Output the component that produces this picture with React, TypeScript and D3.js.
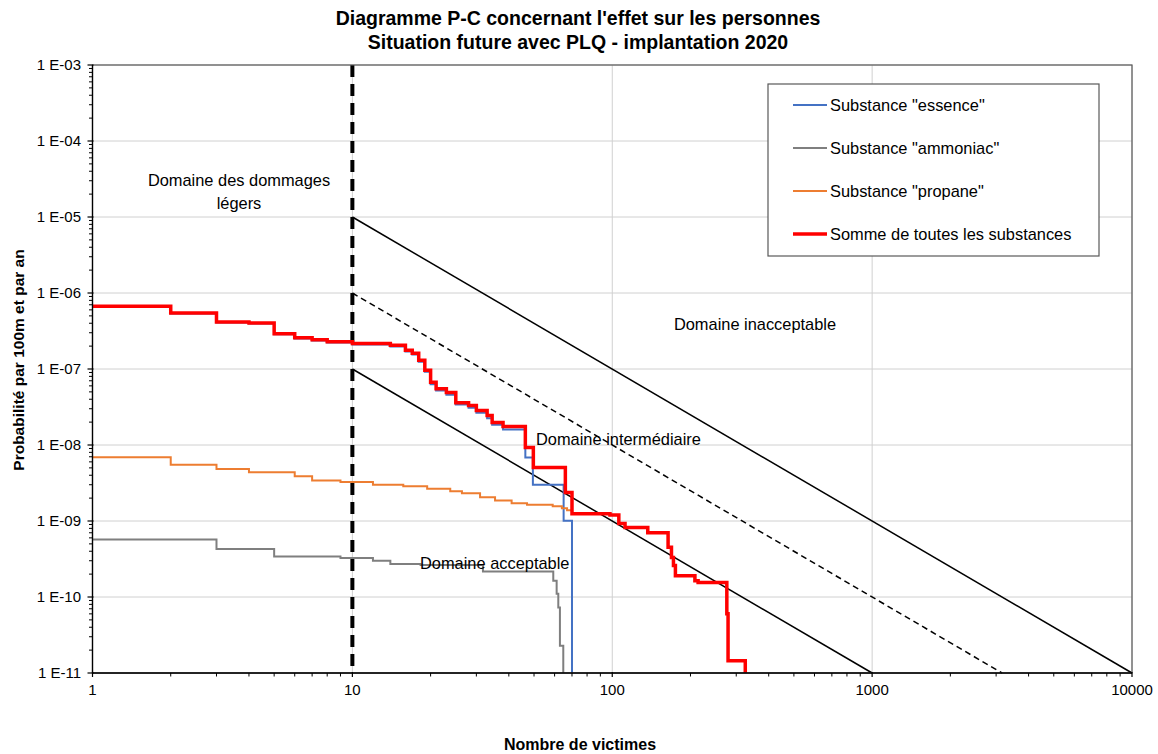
import React from "react";
import * as d3 from "d3";

const W = 1158;
const H = 754;

const titleLines = [
  "Diagramme P-C concernant l'effet sur les personnes",
  "Situation future avec PLQ - implantation 2020",
];
const xAxisTitle = "Nombre de victimes";
const yAxisTitle = "Probabilité par 100m et par an";

const xTicks = [1, 10, 100, 1000, 10000];
const yTicks = [1e-3, 1e-4, 1e-5, 1e-6, 1e-7, 1e-8, 1e-9, 1e-10, 1e-11];

type Pt = [number, number];

// Cumulative frequency curves (victims, probability), drawn as steps
const essence: Pt[] = [
  [1, 6.6e-7], [2, 5.38e-7], [3, 4.08e-7], [4, 3.96e-7], [5, 2.86e-7], [6, 2.52e-7],
  [7, 2.37e-7], [8, 2.23e-7], [10, 2.1e-7], [14, 1.98e-7], [16, 1.7e-7], [17, 1.55e-7],
  [18, 1.25e-7], [19, 9.2e-8], [20, 6.3e-8], [21, 5.2e-8], [23, 4.6e-8], [25, 3.4e-8],
  [28, 3.1e-8], [30, 2.65e-8], [33, 2.25e-8], [34.5, 1.85e-8], [38, 1.6e-8],
  [46.3, 6.84e-9], [49.5, 3.0e-9], [65, 1.01e-9], [70, 1e-11],
];

const ammoniac: Pt[] = [
  [1, 5.69e-10], [3, 4.29e-10], [5, 3.4e-10], [9, 3.27e-10], [12, 3.01e-10], [14, 2.72e-10],
  [18.3, 2.64e-10], [31.8, 2.17e-10], [59.3, 1.64e-10], [61.1, 1.1e-10], [62, 7.3e-11],
  [62.9, 2.28e-11], [64.8, 1e-11],
];

const propane: Pt[] = [
  [1, 6.9e-9], [2, 5.48e-9], [3, 4.85e-9], [4, 4.38e-9], [6, 3.88e-9], [7, 3.41e-9],
  [9, 3.27e-9], [12, 2.99e-9], [15.7, 2.86e-9], [19.4, 2.65e-9], [23.8, 2.46e-9],
  [26.4, 2.32e-9], [31, 2.05e-9], [35.4, 1.86e-9], [41, 1.71e-9], [47, 1.63e-9],
  [59, 1.56e-9], [64, 1.47e-9], [67, 1.38e-9], [70, 1.3e-9],
];

const somme: Pt[] = [
  [1, 6.7e-7], [2, 5.45e-7], [3, 4.15e-7], [4, 4.03e-7], [5, 2.92e-7], [6, 2.58e-7],
  [7, 2.43e-7], [8, 2.29e-7], [10, 2.17e-7], [14, 2.05e-7], [16, 1.76e-7], [17, 1.61e-7],
  [18, 1.3e-7], [19, 9.6e-8], [20, 6.7e-8], [21, 5.5e-8], [23, 4.9e-8], [25, 3.6e-8],
  [28, 3.3e-8], [30, 2.85e-8], [33, 2.45e-8], [34.5, 1.98e-8], [38, 1.75e-8],
  [46.3, 9.3e-9], [49.7, 5.06e-9], [66, 2.37e-9], [70, 1.25e-9], [98, 1.2e-9],
  [106, 9.3e-10], [112, 8.2e-10], [137, 7.0e-10], [164, 4.5e-10], [169, 3.3e-10],
  [172, 2.6e-10], [175, 1.91e-10], [208, 1.64e-10], [214, 1.55e-10], [276, 6.0e-11],
  [279, 1.45e-11], [325, 1e-11],
];

// Acceptability criteria lines
const limitUpper: Pt[] = [[10, 1e-5], [10000, 1e-11]];
const limitMiddle: Pt[] = [[10, 1e-6], [3162, 1e-11]];
const limitLower: Pt[] = [[10, 1e-7], [1000, 1e-11]];
const lightDamageLimit = 10;

const seriesNames = [
  'Substance "essence"',
  'Substance "ammoniac"',
  'Substance "propane"',
  "Somme de toutes les substances",
];
const seriesData = [essence, ammoniac, propane, somme];
const seriesColors = ["#4472C4", "#7F7F7F", "#ED7D31", "#FF0000"];
const seriesWidths = [2, 2, 2, 3.5];

const FONT = "'Liberation Sans', Arial, sans-serif";

export default function App() {
  const left = 92.5;
  const right = 1132;
  const top = 65;
  const bottom = 673;

  const x = d3.scaleLog().domain([1, 10000]).range([left, right]);
  const y = d3.scaleLog().domain([1e-11, 1e-3]).range([bottom, top]);

  const step = d3
    .line<Pt>()
    .x((d) => x(d[0]))
    .y((d) => y(d[1]))
    .curve(d3.curveStepAfter);
  const straight = d3
    .line<Pt>()
    .x((d) => x(d[0]))
    .y((d) => y(d[1]));

  const isDecade = (v: number) => Math.abs(Math.log10(v) - Math.round(Math.log10(v))) < 1e-6;
  const xMinor = x.ticks().filter((v) => !isDecade(v));
  const yMinor = y.ticks().filter((v) => !isDecade(v));

  const fmtY = (v: number) => {
    const e = Math.round(Math.log10(v));
    return `1 E-${String(-e).padStart(2, "0")}`;
  };

  const legendX = 768;
  const legendY = 84;
  const legendW = 331;
  const legendH = 172;
  const legendRows = [105, 148, 191, 234];

  const order = [0, 1, 2, 3];

  return (
    <svg
      width={W}
      height={H}
      style={{ position: "absolute", left: 0, top: 0, background: "#fff" }}
      fontFamily={FONT}
    >
      <rect x={0} y={0} width={W} height={H} fill="#fff" />

      {/* title */}
      {titleLines.map((t, i) => (
        <text
          key={t}
          x={578}
          y={25 + i * 24}
          textAnchor="middle"
          fontSize={19.5}
          fontWeight="bold"
          fill="#000"
        >
          {t}
        </text>
      ))}

      {/* grid */}
      {xTicks.map((v) => (
        <line key={"gx" + v} x1={x(v)} x2={x(v)} y1={top} y2={bottom} stroke="#D0D0D0" strokeWidth={1} />
      ))}
      {yTicks.map((v) => (
        <line key={"gy" + v} x1={left} x2={right} y1={y(v)} y2={y(v)} stroke="#D0D0D0" strokeWidth={1} />
      ))}

      {/* criteria lines */}
      <path d={straight(limitUpper) || ""} fill="none" stroke="#000" strokeWidth={1.5} />
      <path d={straight(limitMiddle) || ""} fill="none" stroke="#000" strokeWidth={1.5} strokeDasharray="6 4" />
      <path d={straight(limitLower) || ""} fill="none" stroke="#000" strokeWidth={1.5} />

      {/* light damage boundary */}
      <line
        x1={x(lightDamageLimit)}
        x2={x(lightDamageLimit)}
        y1={top}
        y2={bottom}
        stroke="#000"
        strokeWidth={4}
        strokeDasharray="12 7"
      />

      {/* series */}
      {order.map((i) => (
        <path
          key={seriesNames[i]}
          d={step(seriesData[i]) || ""}
          fill="none"
          stroke={seriesColors[i]}
          strokeWidth={seriesWidths[i]}
          strokeLinejoin="miter"
        />
      ))}

      {/* domain annotations */}
      <g fontSize={16.4} fill="#000">
        <text x={239} y={186} textAnchor="middle">Domaine des dommages</text>
        <text x={239} y={209} textAnchor="middle">légers</text>
        <text x={755} y={330} textAnchor="middle">Domaine inacceptable</text>
        <text x={536} y={445}>Domaine intermédiaire</text>
        <text x={420} y={569}>Domaine acceptable</text>
      </g>

      {/* frame */}
      <rect x={left} y={top} width={right - left} height={bottom - top} fill="none" stroke="#595959" strokeWidth={1.2} />

      {/* y axis */}
      <line x1={left} x2={left} y1={top} y2={bottom} stroke="#000" strokeWidth={1.3} />
      {yTicks.map((v) => (
        <g key={"yt" + v}>
          <line x1={left - 5} x2={left + 1} y1={y(v)} y2={y(v)} stroke="#000" strokeWidth={1.2} />
          <text x={81} y={y(v)} dy="0.35em" textAnchor="end" fontSize={15} fill="#000">
            {fmtY(v)}
          </text>
        </g>
      ))}
      {yMinor.map((v) => (
        <line key={"ym" + v} x1={left - 3.5} x2={left} y1={y(v)} y2={y(v)} stroke="#000" strokeWidth={1} />
      ))}

      {/* x axis */}
      <line x1={left} x2={right} y1={bottom} y2={bottom} stroke="#000" strokeWidth={1.3} />
      {xTicks.map((v) => (
        <g key={"xt" + v}>
          <line x1={x(v)} x2={x(v)} y1={bottom - 1} y2={bottom + 4} stroke="#000" strokeWidth={1.2} />
          <text x={x(v)} y={695} textAnchor="middle" fontSize={15} fill="#000">
            {v}
          </text>
        </g>
      ))}
      {xMinor.map((v) => (
        <line key={"xm" + v} x1={x(v)} x2={x(v)} y1={bottom} y2={bottom + 3.5} stroke="#000" strokeWidth={1} />
      ))}

      {/* axis titles */}
      <text x={580} y={750} textAnchor="middle" fontSize={16} fontWeight="bold" fill="#000">
        {xAxisTitle}
      </text>
      <text
        transform={`translate(24, 360) rotate(-90)`}
        textAnchor="middle"
        fontSize={15.5}
        fontWeight="bold"
        fill="#000"
      >
        {yAxisTitle}
      </text>

      {/* legend */}
      <rect x={legendX} y={legendY} width={legendW} height={legendH} fill="#fff" stroke="#595959" strokeWidth={1.2} />
      {order.map((i) => (
        <g key={"lg" + i}>
          <line
            x1={793}
            x2={827}
            y1={legendRows[i]}
            y2={legendRows[i]}
            stroke={seriesColors[i]}
            strokeWidth={seriesWidths[i]}
          />
          <text x={830} y={legendRows[i]} dy="0.35em" fontSize={16.4} fill="#000">
            {seriesNames[i]}
          </text>
        </g>
      ))}
    </svg>
  );
}
